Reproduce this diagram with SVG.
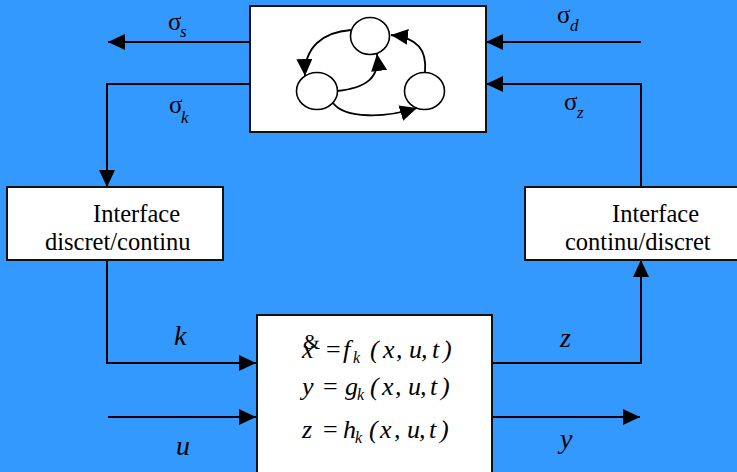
<svg xmlns="http://www.w3.org/2000/svg" width="737" height="472" viewBox="0 0 737 472">
<defs>
<marker id="ah" viewBox="0 0 17 16" refX="17" refY="8" markerWidth="17" markerHeight="16" markerUnits="userSpaceOnUse" orient="auto"><path d="M0,0 L17,8 L0,16 z" fill="#000"/></marker>
<style>
.box{fill:#fff;stroke:#111;stroke-width:2}
.st{fill:#fff;stroke:#000;stroke-width:1.6}
.ln{fill:none;stroke:#000;stroke-width:2;marker-end:url(#ah)}
.cl{fill:none;stroke:#000;stroke-width:1.8;marker-end:url(#ah)}
text{font-family:'Liberation Serif','DejaVu Serif',serif;fill:#000}
.sig{font-size:25px}
.sub{font-size:17px;font-style:italic}
.lbl{font-size:28px;font-style:italic}
.if{font-size:24.5px}
.eq{font-size:26px;font-style:italic}
.eqs{font-size:16px;font-style:italic}
</style>
</defs>
<rect width="737" height="472" fill="#3399ff"/>
<g id="connectors">
<path class="ln" d="M250,42 H108"/>
<path class="ln" d="M250,84 H107 V187"/>
<path class="ln" d="M641,42 H486"/>
<path class="ln" d="M641,187 V84 H486"/>
<path class="ln" d="M107,260 V363 H256"/>
<path class="ln" d="M108,417 H256"/>
<path class="ln" d="M492,363 H641 V260"/>
<path class="ln" d="M492,417 H640"/>
</g>
<g id="automaton">
<rect class="box" x="250" y="6" width="236" height="126"/>
<ellipse class="st" cx="370" cy="36" rx="19.5" ry="18.5"/>
<ellipse class="st" cx="317" cy="91" rx="20.5" ry="18.5"/>
<ellipse class="st" cx="424.5" cy="91" rx="20" ry="18.5"/>
<path class="cl" d="M351,30 C322,32 304,48 305,76"/>
<path class="cl" d="M337,91 C366,88 380,78 377,54"/>
<path class="cl" d="M333,103 C345,119 385,118 417,108"/>
<path class="cl" d="M425,72 C427,50 418,38 391,35"/>
</g>
<g id="iface-dc">
<rect class="box" x="7" y="187" width="216" height="73"/>
<text class="if" x="93" y="222">Interface</text>
<text class="if" x="45" y="250">discret/continu</text>
</g>
<g id="iface-cd">
<rect class="box" x="525" y="187" width="216" height="73"/>
<text class="if" x="612" y="222">Interface</text>
<text class="if" x="565" y="250">continu/discret</text>
</g>
<g id="continuous">
<rect class="box" x="257" y="315" width="235" height="160"/>
<text font-size="22" x="303" y="349">&amp;</text>
<text class="eq" y="358"><tspan x="302">x</tspan><tspan x="326" font-style="normal">=</tspan><tspan x="343">f</tspan><tspan x="370">(</tspan><tspan x="383">x</tspan><tspan x="396">,</tspan><tspan x="409">u</tspan><tspan x="421">,</tspan><tspan x="432">t</tspan><tspan x="443">)</tspan></text>
<text class="eqs" x="353" y="363">k</text>
<text class="eq" y="395"><tspan x="302">y</tspan><tspan x="323" font-style="normal">=</tspan><tspan x="345">g</tspan><tspan x="370">(</tspan><tspan x="382">x</tspan><tspan x="395">,</tspan><tspan x="408">u</tspan><tspan x="420">,</tspan><tspan x="430">t</tspan><tspan x="441">)</tspan></text>
<text class="eqs" x="357" y="400">k</text>
<text class="eq" y="438"><tspan x="302">z</tspan><tspan x="323" font-style="normal">=</tspan><tspan x="343">h</tspan><tspan x="369">(</tspan><tspan x="380">x</tspan><tspan x="394">,</tspan><tspan x="407">u</tspan><tspan x="419">,</tspan><tspan x="429">t</tspan><tspan x="440">)</tspan></text>
<text class="eqs" x="355" y="443">k</text>
</g>
<g id="labels">
<text class="sig" x="168" y="30">σ</text><text class="sub" x="180" y="37">s</text>
<text class="sig" x="169" y="113">σ</text><text class="sub" x="181" y="123">k</text>
<text class="sig" x="557" y="23">σ</text><text class="sub" x="570" y="31">d</text>
<text class="sig" x="564" y="110">σ</text><text class="sub" x="577" y="118">z</text>
<text class="lbl" x="174" y="345">k</text>
<text class="lbl" x="176" y="455">u</text>
<text class="lbl" x="560" y="347">z</text>
<text class="lbl" x="560" y="448">y</text>
</g>
</svg>
